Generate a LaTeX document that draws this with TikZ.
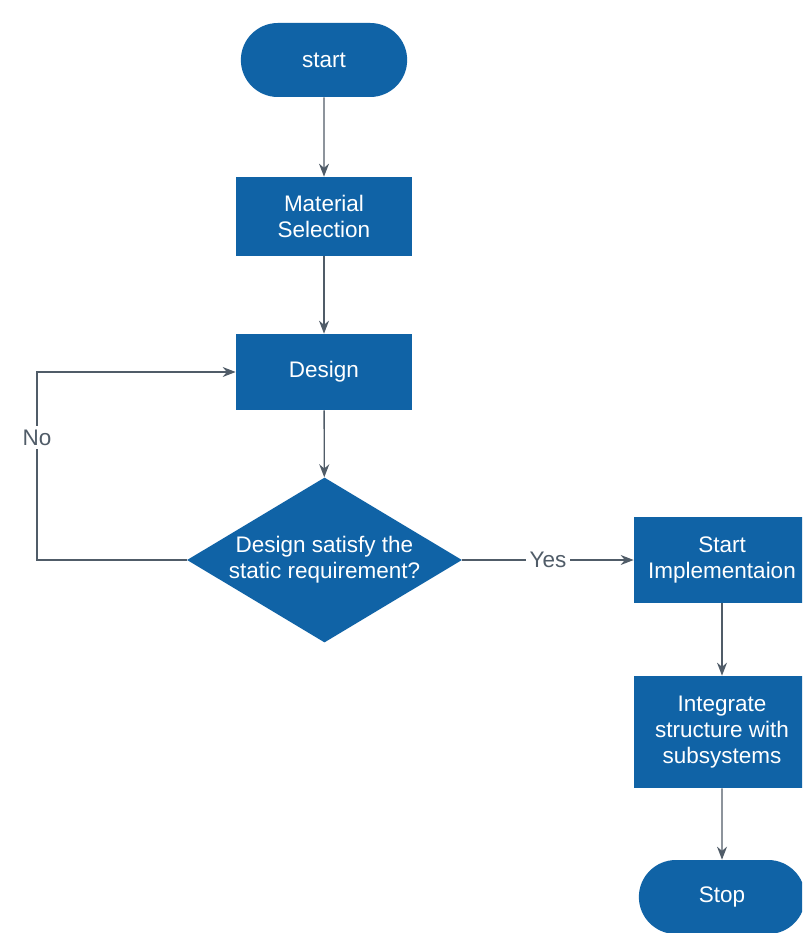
\documentclass[tikz,border=0pt]{standalone}
\usepackage{fontspec}
\setmainfont{Liberation Sans}
\usetikzlibrary{shapes.geometric,shapes.misc,arrows.meta}
\definecolor{boxblue}{RGB}{16,99,166}
\definecolor{linegray}{RGB}{80,92,104}
\tikzset{
    block/.style={rectangle,fill=boxblue,text=white,minimum width=3.52cm,align=center,font=\fontsize{12.8}{14.8}\selectfont},
    pill/.style={block,rounded rectangle,minimum height=1.48cm,minimum width=3.56cm},
    decision/.style={diamond,fill=boxblue,text=white,minimum width=5.5cm,minimum height=3.3cm,aspect=1.67,inner sep=0pt,align=center,font=\fontsize{12.8}{14.8}\selectfont},
    flow/.style={draw=linegray,line width=0.75pt,-{Stealth[length=2.6mm,width=2mm]}},
    answer/.style={fill=white,text=linegray,inner sep=2pt,font=\fontsize{12.8}{14.8}\selectfont}
}
\begin{document}
\begin{tikzpicture}
                \def\mainx{6.48}
                \def\sidex{14.44}
                \clip (0,0) rectangle (16.04,-18.66);
                \fill[white] (0,0) rectangle (16.04,-18.66);
                \node[pill] (start) at (\mainx,-1.2) {start};
                \node[block,minimum height=1.58cm] (material) at (\mainx,-4.33) {Material\\Selection};
                \node[block,minimum height=1.52cm] (design) at (\mainx,-7.44) {Design};
                \node[decision] (check) at (6.49,-11.2) {Design satisfy the\\static requirement?};
                \node[block,minimum height=1.72cm] (implement) at (\sidex,-11.2) {Start\\Implementaion};
                \node[block,minimum height=2.24cm] (integrate) at (\sidex,-14.64) {Integrate\\structure with\\subsystems};
                \node[pill] (stop) at (\sidex,-17.94) {Stop};
                \coordinate (noturn) at (0.74,-11.2);
                \draw[flow] (start) -- (material);
                \draw[flow] (material) -- (design);
                \draw[flow] (design) -- (check);
                \draw[flow] (check.west) -- (noturn) -- node[answer,pos=0.65] {No} (noturn |- design.west) -- (design.west);
                \draw[flow] (check.east) -- node[answer] {Yes} (implement.west);
                \draw[flow] (implement) -- (integrate);
                \draw[flow] (integrate) -- (stop);
            \end{tikzpicture}
\end{document}
